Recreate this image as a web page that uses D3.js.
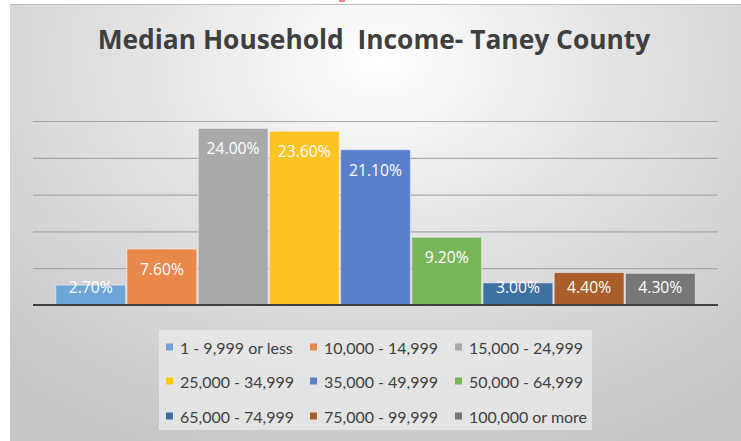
<!DOCTYPE html>
<html>
<head>
<meta charset="utf-8">
<script src="https://cdn.jsdelivr.net/npm/d3@7"></script>
<style>
  html, body { margin: 0; padding: 0; background: #ffffff; }
  svg { display: block; }
</style>
</head>
<body>
<svg id="chart" width="741" height="441"></svg>
<script>
// ---- data ----
const categories = ["1 - 9,999 or less", "10,000 - 14,999", "15,000 - 24,999",
  "25,000 - 34,999", "35,000 - 49,999", "50,000 - 64,999",
  "65,000 - 74,999", "75,000 - 99,999", "100,000 or more"];
const values = [2.7, 7.6, 24.0, 23.6, 21.1, 9.2, 3.0, 4.4, 4.3];
const colors = ["#6ea5d8", "#e9884b", "#a9a9a9", "#fcc322", "#5a80cb", "#79b55a", "#3e71a0", "#a95e2b", "#777777"];
const yTicks = [5, 10, 15, 20, 25];
const title = "Median Household\u00A0 Income- Taney County";

const W = 741, H = 441;
const svg = d3.select("#chart");
const defs = svg.append("defs");

// background gradient
const rg = defs.append("radialGradient").attr("id", "bg")
  .attr("gradientUnits", "userSpaceOnUse")
  .attr("cx", 380).attr("cy", 60).attr("r", 560)
  .attr("gradientTransform", "translate(380,60) scale(1,0.75) translate(-380,-60)");
rg.append("stop").attr("offset", "0%").attr("stop-color", "#ffffff");
rg.append("stop").attr("offset", "45%").attr("stop-color", "#e2e2e2");
rg.append("stop").attr("offset", "100%").attr("stop-color", "#c6c6c6");

svg.append("rect").attr("x", 0).attr("y", 0).attr("width", W).attr("height", H).attr("fill", "#ffffff");
svg.append("rect").attr("x", 10).attr("y", 4).attr("width", W - 10).attr("height", H - 4).attr("fill", "url(#bg)");
svg.append("line").attr("x1", 10).attr("x2", W).attr("y1", 4.5).attr("y2", 4.5)
  .attr("stroke", "#bdbdbd").attr("stroke-width", 1);
svg.append("rect").attr("x", 339).attr("y", 0).attr("width", 6).attr("height", 2).attr("fill", "#f4877f");

// title
const t = svg.append("text")
  .attr("x", 374).attr("y", 49)
  .attr("text-anchor", "middle")
  .attr("font-family", "'Open Sans', sans-serif")
  .attr("font-weight", "bold")
  .attr("font-size", 26)
  .attr("fill", "#3f3f3f")
  .text(title);
{
  const w = t.node().getComputedTextLength();
  t.attr("font-size", 26 * 553 / w);
}

// scales
const x = d3.scaleBand().domain(categories).range([33, 718]).paddingInner(0.02).paddingOuter(0.32);
const y = d3.scaleLinear().domain([0, 25]).range([305, 121]);

// gridlines
const yAxis = d3.axisLeft(y).tickValues(yTicks).tickSize(-(718 - 33)).tickFormat("");
const g = svg.append("g").attr("transform", "translate(33,0)").call(yAxis);
g.select(".domain").remove();
g.selectAll(".tick line").attr("stroke", "#a8a8a8").attr("stroke-width", 1.2);

// bars
svg.append("g").selectAll("rect").data(values).join("rect")
  .attr("x", (d, i) => x(categories[i]))
  .attr("width", x.bandwidth())
  .attr("y", d => y(d))
  .attr("height", d => y(0) - y(d))
  .attr("fill", (d, i) => colors[i])
  .attr("stroke", "rgba(255,255,255,0.45)")
  .attr("stroke-width", 1);

// baseline
const xAxis = d3.axisBottom(x).tickSize(0).tickFormat("");
const xa = svg.append("g").attr("transform", "translate(0,305)").call(xAxis);
xa.select(".domain").attr("stroke", "#404040").attr("stroke-width", 2.2)
  .attr("d", "M33,0H718");

// data labels
const lbl = svg.append("g").selectAll("text").data(values).join("text")
  .attr("x", (d, i) => x(categories[i]) + x.bandwidth() / 2)
  .attr("y", d => Math.min(y(d) + 20, 286.5))
  .attr("text-anchor", "middle")
  .attr("dominant-baseline", "central")
  .attr("font-family", "'Open Sans', sans-serif")
  .attr("font-size", 14)
  .attr("fill", "#ffffff")
  .text(d => d.toFixed(2) + "%");
{
  const w = lbl.filter((d, i) => i === 2).node().getComputedTextLength();
  lbl.attr("font-size", 14 * 53 / w);
}

// legend
svg.append("rect").attr("x", 159).attr("y", 330).attr("width", 433).attr("height", 100)
  .attr("fill", "#e8e8e8").attr("opacity", 0.85);
const colX = [166, 310, 455];
const rowY = [347, 381, 416];
const leg = svg.append("g").selectAll("g").data(categories).join("g")
  .attr("transform", (d, i) => `translate(${colX[i % 3]},${rowY[Math.floor(i / 3)]})`);
leg.append("rect").attr("x", 0).attr("y", -3.5).attr("width", 7).attr("height", 7)
  .attr("fill", (d, i) => colors[i]);
const lt = leg.append("text").attr("x", 14).attr("y", 0)
  .attr("dominant-baseline", "central")
  .attr("font-family", "Lato, sans-serif")
  .attr("font-size", 15)
  .attr("fill", "#404040")
  .text(d => d);
{
  const w = lt.filter((d, i) => i === 1).node().getComputedTextLength();
  lt.attr("font-size", 15 * 114 / w);
}
</script>
</body>
</html>
